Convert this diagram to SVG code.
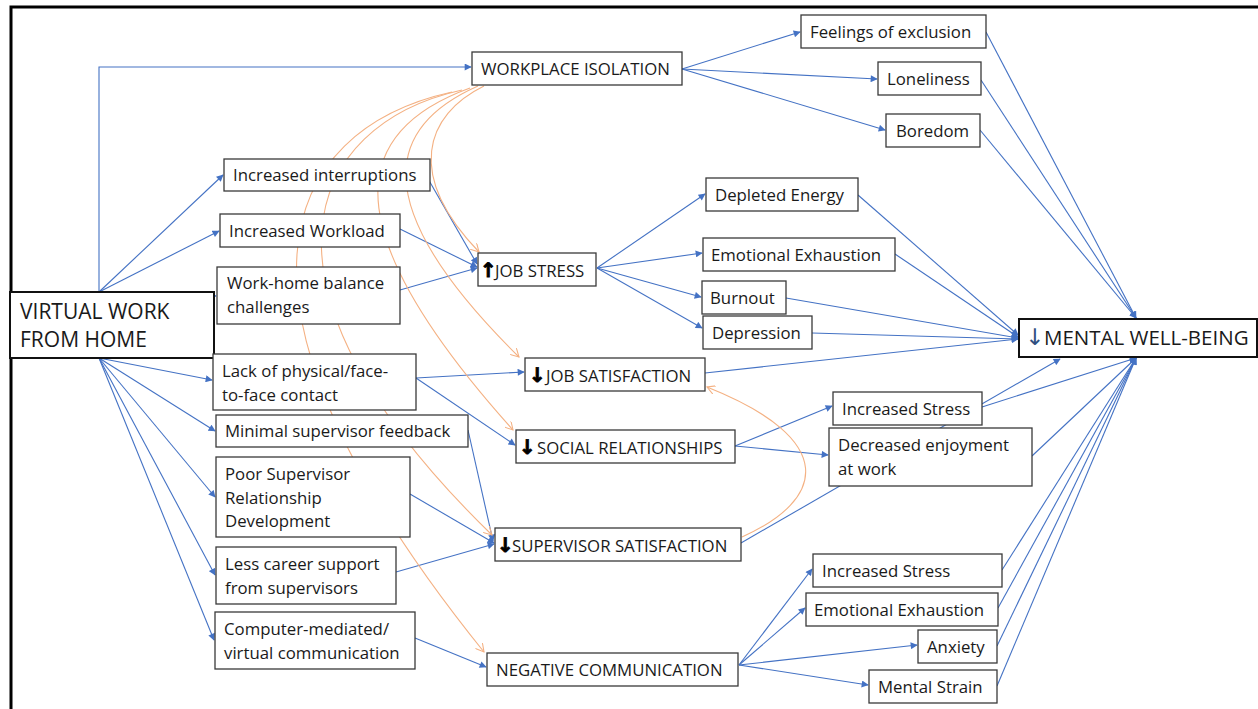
<svg xmlns="http://www.w3.org/2000/svg" width="1258" height="709" viewBox="0 0 1258 709">
<defs>
<style>
.box{fill:#fff;stroke:#3a3a3a;stroke-width:1.3}
.big{stroke-width:2;stroke:#111}
.t{font-family:"Open Sans","Noto Sans",sans-serif;font-size:16.8px;fill:#1a1a1a}
.tb{font-size:21px}
.tm{font-size:20.5px}
.ar{font-family:"DejaVu Sans",sans-serif;font-weight:bold;font-size:20px;fill:#000;stroke:#000;stroke-width:0.9}
.am{font-family:"DejaVu Sans",sans-serif;font-size:23px;fill:#2F4F7F}
.b{fill:none;stroke:#4472C4;stroke-width:1.1;marker-end:url(#ab)}
.o{fill:none;stroke:#F4B183;stroke-width:1.1;marker-end:url(#ao)}
</style>
<marker id="ab" viewBox="0 0 10 10" refX="9" refY="5" markerWidth="8" markerHeight="7" markerUnits="userSpaceOnUse" orient="auto">
<path d="M0,0 L10,5 L0,10 z" fill="#4472C4"/>
</marker>
<marker id="ao" viewBox="0 0 10 10" refX="9" refY="5" markerWidth="9" markerHeight="9" markerUnits="userSpaceOnUse" orient="auto">
<path d="M0,0 L9,5 L0,10" fill="none" stroke="#F4B183" stroke-width="1.2"/>
</marker>
</defs>
<rect width="1258" height="709" fill="#fff"/>
<!-- outer frame -->
<path d="M11,709 V7 H1258" fill="none" stroke="#000" stroke-width="3"/>

<g id="connectors">
<!-- from virtual work -->
<path class="b" d="M99,292 V67 H471"/>
<path class="b" d="M99,292 L223,175"/>
<path class="b" d="M99,292 L219,231"/>
<path class="b" d="M99,292 L216,296"/>
<path class="b" d="M99,358 L212,380"/>
<path class="b" d="M99,358 L215,431"/>
<path class="b" d="M99,358 L215,497"/>
<path class="b" d="M99,358 L215,575"/>
<path class="b" d="M99,358 L214,640"/>
<!-- into job stress -->
<path class="b" d="M427,177 L477,264"/>
<path class="b" d="M400,229 L477,267"/>
<path class="b" d="M400,290 L477,268"/>
<!-- job stress outcomes -->
<path class="b" d="M597,268 L705,194"/>
<path class="b" d="M597,268 L702,253"/>
<path class="b" d="M597,268 L701,297"/>
<path class="b" d="M597,268 L702,328"/>
<!-- workplace isolation outcomes -->
<path class="b" d="M682,69 L800,32"/>
<path class="b" d="M682,69 L877,79"/>
<path class="b" d="M682,69 L885,130"/>
<!-- contact / supervisor / communication -->
<path class="b" d="M416,378 L524,372"/>
<path class="b" d="M416,378 L515,445"/>
<path class="b" d="M468,430 L493,541"/>
<path class="b" d="M410,494 L494,543"/>
<path class="b" d="M396,572 L494,544"/>
<path class="b" d="M415,638 L486,667"/>
<!-- social relationships outcomes -->
<path class="b" d="M735,446 L832,406"/>
<path class="b" d="M735,446 L828,455"/>
<!-- negative communication outcomes -->
<path class="b" d="M739,665 L812,569"/>
<path class="b" d="M739,665 L805,608"/>
<path class="b" d="M739,665 L917,645"/>
<path class="b" d="M739,665 L868,685"/>
<!-- into mental well-being -->
<path class="b" d="M986,32 L1136,318"/>
<path class="b" d="M981,80 L1136,318"/>
<path class="b" d="M980,130 L1136,318"/>
<path class="b" d="M858,195 L1018,335"/>
<path class="b" d="M895,254 L1018,337"/>
<path class="b" d="M786,298 L1018,338"/>
<path class="b" d="M812,333 L1018,339"/>
<path class="b" d="M705,373 L1018,339"/>
<path class="b" d="M982,407 L1136,358"/>
<path class="b" d="M1032,456 L1136,358"/>
<path class="b" d="M741,543 L1060,359"/>
<path class="b" d="M1002,570 L1136,358"/>
<path class="b" d="M998,608 L1136,358"/>
<path class="b" d="M997,646 L1136,358"/>
<path class="b" d="M997,686 L1136,358"/>
<!-- orange feedback curves -->
<path class="o" d="M484,86 C425,115 405,175 479,252"/>
<path class="o" d="M478,86 C390,125 360,200 519,357"/>
<path class="o" d="M470,88 C360,128 320,215 513,430"/>
<path class="o" d="M462,90 C305,125 235,285 492,535"/>
<path class="o" d="M452,92 C280,130 200,300 484,652"/>
<path class="o" d="M742,537 C825,500 840,440 707,387"/>
</g>

<g id="n-vwfh"><rect class="box big" x="10" y="292" width="204" height="66"/><text class="t tb" x="20" y="319">VIRTUAL WORK</text><text class="t tb" x="20" y="347">FROM HOME</text></g>
<g id="n-wpi"><rect class="box" x="472" y="52" width="210" height="33"/><text class="t" x="481" y="75">WORKPLACE ISOLATION</text></g>
<g id="n-feel"><rect class="box" x="801" y="15" width="185" height="33"/><text class="t" x="810" y="38">Feelings of exclusion</text></g>
<g id="n-lone"><rect class="box" x="878" y="62" width="103" height="33"/><text class="t" x="887" y="85">Loneliness</text></g>
<g id="n-bore"><rect class="box" x="886" y="114" width="94" height="33"/><text class="t" x="896" y="137">Boredom</text></g>
<g id="n-intr"><rect class="box" x="224" y="159" width="206" height="32"/><text class="t" x="233" y="181">Increased interruptions</text></g>
<g id="n-work"><rect class="box" x="220" y="214" width="180" height="33"/><text class="t" x="229" y="237">Increased Workload</text></g>
<g id="n-whb"><rect class="box" x="217" y="267" width="183" height="57"/><text class="t" x="227" y="289">Work-home balance</text><text class="t" x="227" y="313">challenges</text></g>
<g id="n-jobstress"><rect class="box" x="478" y="253" width="118" height="33"/><text class="t" y="277"><tspan class="ar" x="480">↑</tspan><tspan x="495">JOB STRESS</tspan></text></g>
<g id="n-depl"><rect class="box" x="706" y="178" width="152" height="33"/><text class="t" x="715" y="201">Depleted Energy</text></g>
<g id="n-emo1"><rect class="box" x="703" y="238" width="192" height="33"/><text class="t" x="711" y="261">Emotional Exhaustion</text></g>
<g id="n-burn"><rect class="box" x="702" y="281" width="84" height="33"/><text class="t" x="710" y="304">Burnout</text></g>
<g id="n-depr"><rect class="box" x="703" y="316" width="109" height="33"/><text class="t" x="712" y="339">Depression</text></g>
<g id="n-mwb"><rect class="box big" x="1019" y="319" width="238" height="38"/><text class="t tm" y="345"><tspan class="am" x="1025">↓</tspan><tspan x="1044">MENTAL WELL-BEING</tspan></text></g>
<g id="n-lack"><rect class="box" x="213" y="354" width="203" height="56"/><text class="t" x="222" y="377">Lack of physical/face-</text><text class="t" x="222" y="401">to-face contact</text></g>
<g id="n-jobsat"><rect class="box" x="525" y="358" width="180" height="33"/><text class="t" y="382"><tspan class="ar" x="529">↓</tspan><tspan x="546">JOB SATISFACTION</tspan></text></g>
<g id="n-minf"><rect class="box" x="216" y="415" width="252" height="32"/><text class="t" x="225" y="437">Minimal supervisor feedback</text></g>
<g id="n-social"><rect class="box" x="516" y="430" width="219" height="33"/><text class="t" y="454"><tspan class="ar" x="519">↓</tspan><tspan x="537">SOCIAL RELATIONSHIPS</tspan></text></g>
<g id="n-incs1"><rect class="box" x="833" y="392" width="149" height="33"/><text class="t" x="842" y="415">Increased Stress</text></g>
<g id="n-decr"><rect class="box" x="829" y="428" width="203" height="58"/><text class="t" x="838" y="451">Decreased enjoyment</text><text class="t" x="838" y="475">at work</text></g>
<g id="n-poor"><rect class="box" x="216" y="457" width="194" height="80"/><text class="t" x="225" y="480">Poor Supervisor</text><text class="t" x="225" y="504">Relationship</text><text class="t" x="225" y="527">Development</text></g>
<g id="n-supsat"><rect class="box" x="495" y="528" width="246" height="33"/><text class="t" y="552"><tspan class="ar" x="497">↓</tspan><tspan x="512">SUPERVISOR SATISFACTION</tspan></text></g>
<g id="n-less"><rect class="box" x="216" y="547" width="180" height="57"/><text class="t" x="225" y="570">Less career support</text><text class="t" x="225" y="594">from supervisors</text></g>
<g id="n-incs2"><rect class="box" x="813" y="554" width="189" height="33"/><text class="t" x="822" y="577">Increased Stress</text></g>
<g id="n-emo2"><rect class="box" x="806" y="593" width="192" height="33"/><text class="t" x="814" y="616">Emotional Exhaustion</text></g>
<g id="n-anx"><rect class="box" x="918" y="630" width="79" height="33"/><text class="t" x="927" y="653">Anxiety</text></g>
<g id="n-comp"><rect class="box" x="215" y="612" width="200" height="57"/><text class="t" x="224" y="635">Computer-mediated/</text><text class="t" x="224" y="659">virtual communication</text></g>
<g id="n-neg"><rect class="box" x="487" y="653" width="251" height="33"/><text class="t" x="496" y="676">NEGATIVE COMMUNICATION</text></g>
<g id="n-strain"><rect class="box" x="869" y="670" width="128" height="33"/><text class="t" x="878" y="693">Mental Strain</text></g>
</svg>
